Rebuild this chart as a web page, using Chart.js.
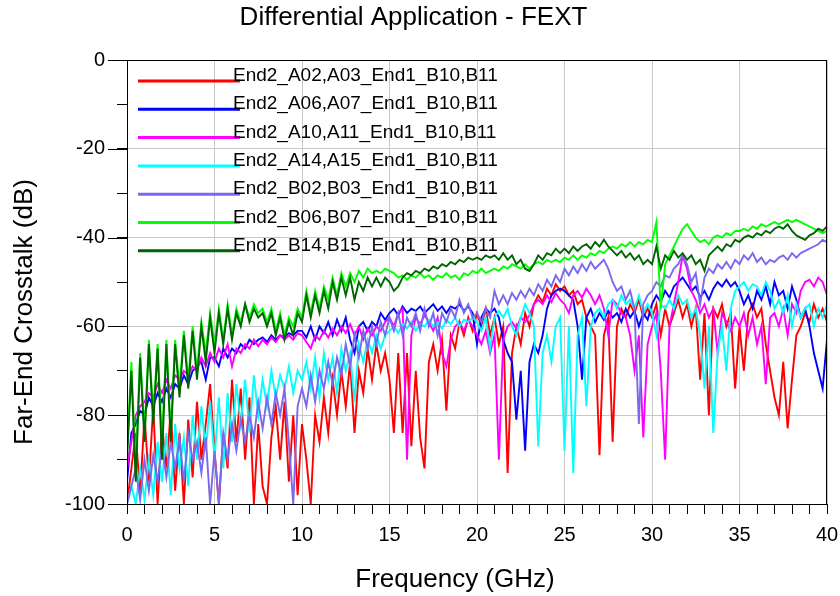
<!DOCTYPE html>
<html>
<head>
<meta charset="utf-8">
<title>Differential Application - FEXT</title>
<script src="https://cdn.jsdelivr.net/npm/chart.js@4.4.1/dist/chart.umd.min.js"></script>
<style>
  html, body { margin: 0; padding: 0; background: #fff; }
  #wrap { width: 840px; height: 596px; }
</style>
</head>
<body>
<div id="wrap"><canvas id="fextChart" width="840" height="596"></canvas></div>
<script>
// Far-end crosstalk, one value every 0.25 GHz (0 .. 40 GHz), in dB
const freqStep = 0.25;
const freqGHz = Array.from({ length: 161 }, (_, i) => i * freqStep);

const xTickLabels = [0, 5, 10, 15, 20, 25, 30, 35, 40];
const yTickLabels = [0, -20, -40, -60, -80, -100];

const seriesNames = [
    'End2_A02,A03_End1_B10,B11',
    'End2_A06,A07_End1_B10,B11',
    'End2_A10,A11_End1_B10,B11',
    'End2_A14,A15_End1_B10,B11',
    'End2_B02,B03_End1_B10,B11',
    'End2_B06,B07_End1_B10,B11',
    'End2_B14,B15_End1_B10,B11'
];
const seriesColors = ['#ff0000', '#0000ff', '#ff00ff', '#00ffff', '#7b68ee', '#00ff00', '#006400'];

const fextA02A03 = [
    -100, -92, -84, -98, -80, -95, -78, -100, -82, -92, -79, -97, -84, -100, -81, -94, -77, -90, -82, -73,
    -88, -100, -84, -92, -72, -86, -74, -90, -76, -100, -82, -96, -100, -85, -78, -90, -77, -95, -80, -98,
    -82, -90, -100, -80, -86, -76, -84, -72, -80, -70, -78, -68, -84, -70, -75, -65, -72, -64, -70, -66,
    -72, -84, -66, -84, -66, -87, -70, -85, -92, -68, -64, -70, -63, -79, -62, -65, -59, -62, -58, -61,
    -57, -60, -56, -62, -58, -64, -60, -93, -66, -60, -64, -57, -60, -55, -53, -54.5, -51.5, -53, -50.5, -52,
    -51, -53, -52, -55, -54, -58, -60, -62, -89, -62, -58, -86, -60, -56, -58, -55, -57, -54, -58, -56,
    -58, -55, -62, -56, -60, -57, -54, -58, -55, -60, -56, -72, -57, -80, -56, -58, -55, -60, -57, -74,
    -60, -70, -57, -55, -58, -56, -64, -70, -76, -80, -68, -83, -72, -62, -60, -57, -59, -55, -58, -56,
    -59
];
const fextA06A07 = [
    -95, -84, -82, -79, -80, -76, -78, -75, -77, -74, -76, -73, -74, -71, -73, -70, -69, -68, -72, -67,
    -67, -69, -65, -67, -65, -66, -64, -65, -63, -64, -63, -62.5, -63.5, -62, -63, -62, -62.5, -61.5, -62, -61,
    -61, -62.5, -60, -63, -60, -61.5, -59, -62, -58.5, -61, -58, -63, -66, -60, -59, -61, -59, -60, -57, -58.5,
    -57, -56, -57.5, -55.5, -57, -56, -56.5, -55.5, -57, -56, -55, -56.5, -55.5, -57, -55.5, -56, -55, -56.5, -55.5, -57,
    -64, -58, -56, -57, -56, -58, -63, -66, -68, -81, -70, -88, -68, -64, -66, -62, -56, -53, -52, -51.5,
    -52, -53, -54, -60, -72, -58, -56, -59, -57, -58.5, -56.5, -58, -57, -59, -56, -58, -56.5, -60, -57, -58.5,
    -55, -53, -54.5, -52, -53.5, -51, -50, -49, -50.5, -52, -51, -53.5, -52, -54, -51.5, -50, -51, -49.5, -51, -50,
    -52, -55, -53, -56, -52, -54, -51, -55, -50, -53, -52, -56, -51, -54, -58, -56, -60, -66, -70, -74,
    -63
];
const fextA10A11 = [
    -92, -86, -80, -78, -77, -75, -76, -73, -75, -72, -74, -71, -72, -70, -71, -69, -70, -67, -69, -66,
    -68, -65, -67, -64, -69, -65, -66, -64, -65, -63, -64.5, -63, -64, -62.5, -63.5, -62, -63, -62, -63, -61.5,
    -62, -63.5, -65, -62, -63, -61, -62.5, -60.5, -62, -60, -61.5, -59.5, -62, -60, -63, -60.5, -62, -60, -61, -59,
    -58, -60, -57, -56, -90, -62, -58, -59.5, -57.5, -59, -61, -58, -66, -69, -63, -60, -59, -61, -58.5, -60,
    -62, -64, -61, -66, -62, -90, -63, -60, -59, -60.5, -58, -59, -57.5, -55, -54, -55, -53, -54.5, -52.5, -54,
    -55, -57, -53, -52, -53.5, -51.5, -53, -55, -53, -56, -62, -54, -55, -57, -58, -62, -70, -62, -85, -64,
    -60, -57, -70, -90, -60, -55, -50, -44, -47, -52, -54, -57, -55, -58, -56, -66, -57, -59, -61, -58,
    -60, -57, -62, -58, -64, -60, -73, -58, -57, -60, -56, -62, -55, -57, -52, -50, -49.5, -51, -49, -50,
    -53
];
const fextA14A15 = [
    -100, -96, -100, -92, -99, -90, -98, -86, -95, -84, -98, -82, -92, -85, -96, -80, -90, -78, -88, -77,
    -90, -76, -92, -75, -86, -73, -82, -72, -84, -71, -80, -72, -78, -70, -76, -71, -74, -69, -75, -70,
    -72, -68, -74, -67, -76, -66, -72, -67, -75, -65, -70, -66, -77, -64, -68, -63, -66, -62, -65, -62,
    -61, -60, -61.5, -59.5, -60.5, -59, -61, -59.5, -60, -58.5, -60, -59, -60.5, -58.5, -59.5, -58, -60, -58.5, -59, -58,
    -59, -61, -58, -65, -58, -56.5, -58, -56, -60, -62, -58, -55, -57, -60, -87, -66, -62, -68, -60, -58,
    -88, -60, -93, -62, -58, -78, -60, -57, -56, -58, -55, -54, -56, -53, -55, -54, -56, -53, -57, -55,
    -57, -62, -55, -56, -54, -56, -53, -55, -54, -58, -56, -62, -74, -60, -84, -66, -60, -70, -56, -52,
    -51, -50, -52, -50.5, -51, -53, -50, -52, -56, -54, -57, -53, -60, -55, -58, -56, -55, -60, -56, -58,
    -55
];
const fextB02B03 = [
    -100, -96, -92, -99, -90, -97, -89, -95, -87, -94, -86, -92, -85, -95, -84, -90, -86, -93, -85, -100,
    -88, -100, -84, -90, -82, -88, -81, -86, -80, -85, -77, -83, -76, -82, -75, -80, -74, -86, -100, -78,
    -74, -78, -71, -77, -70, -74, -68, -73, -67, -71, -64, -69, -62, -67, -61, -65, -60, -64, -59, -62,
    -58, -61, -57, -62, -58, -60, -57, -61, -56, -60, -57, -62, -57, -59, -56, -58, -54, -57, -55, -58,
    -57, -59, -56, -58, -52, -55, -53, -55, -52.5, -54, -52, -53.5, -51.5, -53, -50.5, -52, -49.5, -51, -48.5, -50,
    -47, -48.5, -46.5, -48, -46, -47.5, -45.5, -47, -46, -45, -47, -50, -52, -51, -54, -52, -56, -82, -55, -53,
    -52, -50, -51, -48.5, -49, -47, -46, -44, -46, -50, -48, -55, -49, -47, -48, -46, -47, -45.5, -47, -45,
    -46, -44, -45, -43.5, -45.5, -44.5, -46, -45, -45.5, -44.5, -44, -45, -43.5, -44.5, -43.5, -43, -42.5, -42, -41.5, -40.5,
    -41
];
const fextB06B07 = [
    -88, -68, -92, -66, -84, -63, -80, -64, -86, -63, -84, -63, -74, -61, -72, -60, -70, -59, -66, -57,
    -64, -56, -63, -55, -62, -56, -59, -55, -58, -55, -57, -56, -59, -56, -61, -57, -62, -58, -60, -56,
    -58, -52, -57, -52, -56, -51, -54, -49, -53, -48, -51, -48, -50, -47.5, -49, -47, -48, -47.5, -48, -47,
    -47.5, -48, -49, -48.5, -49.5, -48.5, -49, -48, -49, -48.5, -49.5, -48.5, -49, -48, -49, -48.5, -49.5, -48, -48.5, -47.5,
    -48, -47, -48, -47.5, -47, -47.5, -46.5, -47, -46, -46.5, -47, -46, -47, -46, -45.5, -46, -45, -45.5, -45, -45.5,
    -44.5, -45, -44, -45, -44, -44.5, -43.5, -44, -43, -43.5, -42.5, -42, -42.5, -41.5, -42, -41, -42, -41, -41.5, -40.5,
    -41, -36.5, -56, -46, -44, -42, -40, -38, -37, -38.5, -40, -41, -40.5, -41.5, -40, -39.5, -40, -39, -39.5, -38.5,
    -38.5, -38, -38.5, -37.5, -38, -37, -37.5, -37, -36.5, -37, -36.5, -36, -36.5, -36, -36.5, -37, -37.5, -38, -38.5, -39,
    -38.5
];
const fextB14B15 = [
    -90, -70, -95, -67, -86, -64, -82, -65, -90, -64, -86, -64, -76, -62, -74, -61, -72, -60, -68, -58,
    -66, -57, -64, -56, -63, -57, -60, -55, -59, -56, -58, -57, -60, -57, -62, -58, -63, -59, -62, -57,
    -59, -53, -58, -53, -57, -52, -56, -50, -54, -49, -53, -49, -54, -50, -52, -49, -51, -49, -51, -49,
    -50, -52, -51, -49, -48, -48.5, -47.5, -48, -47, -47.5, -46.5, -47, -46, -46.5, -45.5, -46, -45, -45.5, -44.5, -45,
    -44.5, -45, -44, -44.5, -44, -45, -43.5, -45, -44, -46, -45, -47, -47.5, -46, -44, -45, -43.5, -44, -42.5, -43.5,
    -42.5, -43.5, -42, -43, -42, -41.5, -42.5, -41, -42, -40.5, -42, -43, -44, -43, -44.5, -43.5, -45, -44, -46, -45,
    -46, -42, -47, -44, -45, -43, -44.5, -43.5, -45, -44, -46, -45, -47.5, -44, -43, -42, -43, -41.5, -42, -40.5,
    -41, -40, -39.5, -40, -39, -39.5, -38.5, -39, -38, -37.5, -38, -37, -38.5, -39.5, -40, -40.5, -39.5, -39, -38, -38.5,
    -37.5
];

const seriesValues = [fextA02A03, fextA06A07, fextA10A11, fextA14A15, fextB02B03, fextB06B07, fextB14B15];

const fontFamily = 'Arial, "Liberation Sans", sans-serif';

// legend sits inside the plot, top left, no box
const insideLegend = {
    id: 'insideLegend',
    afterDatasetsDraw(chart) {
        const { ctx, chartArea } = chart;
        ctx.save();
        ctx.font = '19px ' + fontFamily;
        ctx.textBaseline = 'alphabetic';
        ctx.textAlign = 'left';
        chart.data.datasets.forEach((ds, i) => {
            const y = chartArea.top + 21 + i * 28.3;
            ctx.strokeStyle = ds.borderColor;
            ctx.lineWidth = 3;
            ctx.beginPath();
            ctx.moveTo(chartArea.left + 11, y);
            ctx.lineTo(chartArea.left + 113, y);
            ctx.stroke();
            ctx.fillStyle = '#000';
            ctx.fillText(ds.label, chartArea.left + 106, y);
        });
        ctx.restore();
    }
};

// box round the plot plus the longer marks on the labelled dB ticks
const plotFrame = {
    id: 'plotFrame',
    afterDatasetsDraw(chart) {
        const { ctx, chartArea: a, scales } = chart;
        ctx.save();
        ctx.strokeStyle = '#000';
        ctx.lineWidth = 1;
        ctx.strokeRect(a.left + 0.5, a.top + 0.5, a.right - a.left - 1, a.bottom - a.top);
        ctx.beginPath();
        yTickLabels.forEach(v => {
            const py = Math.round(scales.y.getPixelForValue(v)) + 0.5;
            ctx.moveTo(a.left - 19, py);
            ctx.lineTo(a.left, py);
        });
        ctx.stroke();
        ctx.restore();
    }
};

const axisTitles = {
    id: 'axisTitles',
    afterDraw(chart) {
        const ctx = chart.ctx;
        ctx.save();
        ctx.fillStyle = '#000';
        ctx.font = '26px ' + fontFamily;
        ctx.textAlign = 'center';
        ctx.textBaseline = 'middle';
        ctx.fillText('Frequency (GHz)', 455, 580);
        ctx.translate(25, 312);
        ctx.rotate(-Math.PI / 2);
        ctx.fillText('Far-End Crosstalk (dB)', 0, 0);
        ctx.restore();
    }
};

const ctx = document.getElementById('fextChart').getContext('2d');

new Chart(ctx, {
    type: 'line',
    data: {
        datasets: seriesNames.map((name, i) => ({
            label: name,
            data: freqGHz.map((f, k) => ({ x: f, y: seriesValues[i][k] })),
            borderColor: seriesColors[i],
            backgroundColor: seriesColors[i],
            borderWidth: 1.9,
            pointRadius: 0,
            tension: 0,
            fill: false,
            order: seriesNames.length - i
        }))
    },
    options: {
        responsive: false,
        animation: false,
        parsing: false,
        layout: { padding: { top: 0, right: 13, bottom: 0, left: 0 } },
        plugins: {
            legend: { display: false },
            tooltip: { enabled: false },
            title: {
                display: true,
                text: 'Differential Application - FEXT',
                color: '#000',
                font: { family: fontFamily, size: 26, weight: 'normal' },
                padding: { top: 2.5, bottom: 26.3 }
            }
        },
        scales: {
            x: {
                type: 'linear',
                min: 0,
                max: 40,
                afterFit(s) { s.height = 92; s.paddingLeft = 0; s.paddingRight = 0; },
                border: { display: true, color: '#000' },
                grid: {
                    color: c => (c.tick && xTickLabels.includes(c.tick.value)) ? '#c8c8c8' : 'rgba(0,0,0,0)',
                    tickColor: '#000',
                    tickLength: 10
                },
                ticks: {
                    stepSize: 1,
                    maxTicksLimit: 100,
                    autoSkip: false,
                    maxRotation: 0,
                    padding: 9,
                    color: '#000',
                    font: { family: fontFamily, size: 20 },
                    callback: v => xTickLabels.includes(v) ? String(v) : ''
                }
            },
            y: {
                min: -100,
                max: 0,
                afterFit(s) { s.width = 127; s.paddingTop = 0; s.paddingBottom = 0; },
                border: { display: true, color: '#000' },
                grid: {
                    color: c => (c.tick && yTickLabels.includes(c.tick.value)) ? '#c8c8c8' : 'rgba(0,0,0,0)',
                    tickColor: '#000',
                    tickLength: 10
                },
                ticks: {
                    stepSize: 10,
                    maxTicksLimit: 100,
                    autoSkip: false,
                    padding: 12,
                    color: '#000',
                    font: { family: fontFamily, size: 20 },
                    callback: v => yTickLabels.includes(v) ? String(v) : ''
                }
            }
        }
    },
    plugins: [insideLegend, plotFrame, axisTitles]
});
</script>
</body>
</html>
